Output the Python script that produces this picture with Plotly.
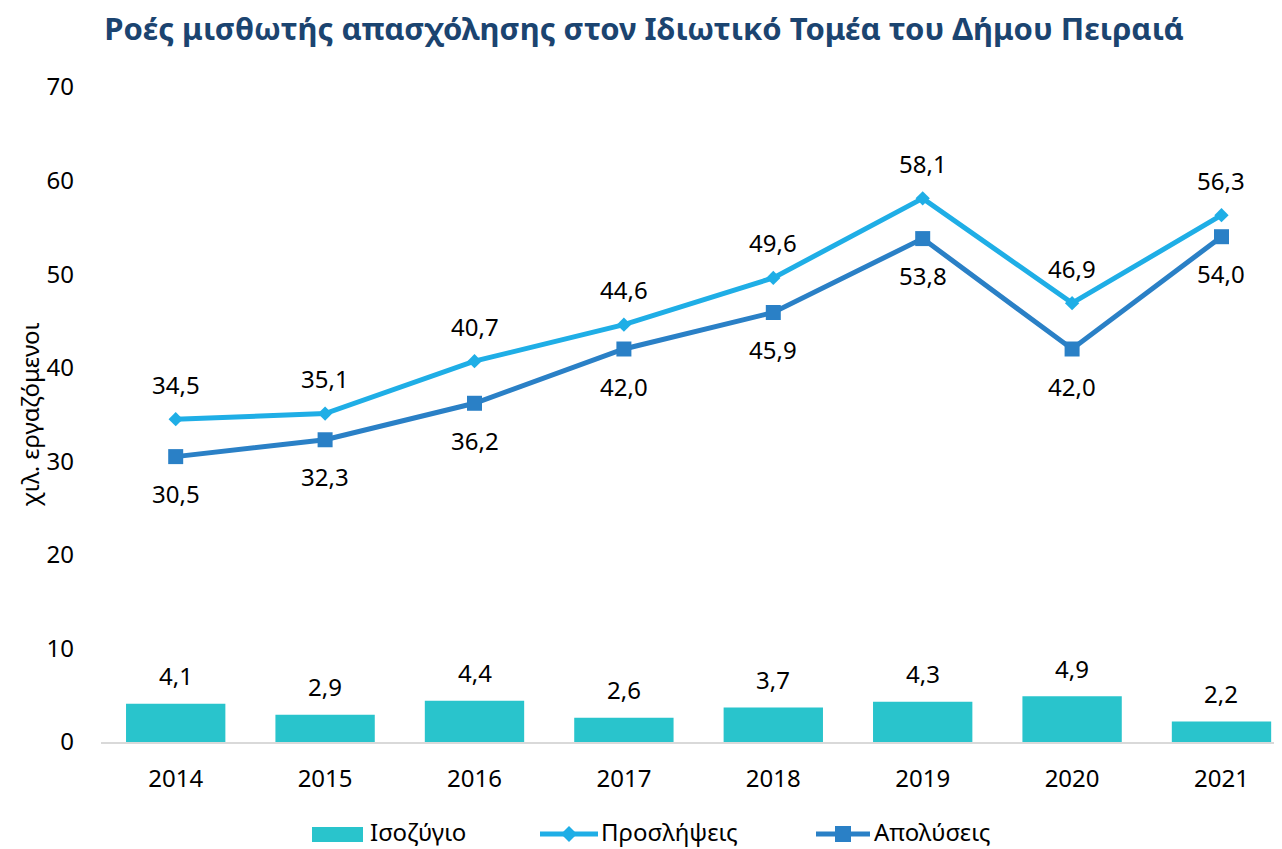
import plotly.graph_objects as go

years = ["2014", "2015", "2016", "2017", "2018", "2019", "2020", "2021"]
hires = [34.5, 35.1, 40.7, 44.6, 49.6, 58.1, 46.9, 56.3]
separations = [30.5, 32.3, 36.2, 42.0, 45.9, 53.8, 42.0, 54.0]
balance = [4.1, 2.9, 4.4, 2.6, 3.7, 4.3, 4.9, 2.2]
series_names = ["Ισοζύγιο", "Προσλήψεις", "Απολύσεις"]

TITLE = "Ροές μισθωτής απασχόλησης στον Ιδιωτικό Τομέα του Δήμου Πειραιά"
Y_TITLE = "χιλ. εργαζόμενοι"

C_BAR = "#29C4CC"
C_HIRE = "#1FAEE6"
C_SEP = "#2A80C6"
FONT = "Noto Sans"


def fmt(v):
    return f"{v:.1f}".replace(".", ",")


fig = go.Figure()
fig.add_trace(go.Bar(x=years, y=balance, name=series_names[0], marker_color=C_BAR,
                     marker_line_width=0, width=0.665, showlegend=False))
fig.add_trace(go.Scatter(x=years, y=hires, name=series_names[1], mode="lines+markers",
                         line=dict(color=C_HIRE, width=5),
                         marker=dict(symbol="diamond", size=11, color=C_HIRE),
                         showlegend=False, cliponaxis=False))
fig.add_trace(go.Scatter(x=years, y=separations, name=series_names[2], mode="lines+markers",
                         line=dict(color=C_SEP, width=5),
                         marker=dict(symbol="square", size=15, color=C_SEP),
                         showlegend=False, cliponaxis=False))

annotations = []
for ys, shift in ((balance, 28), (hires, 35), (separations, -37)):
    for i, yv in enumerate(ys):
        annotations.append(dict(x=i, y=yv, xref="x", yref="y", text=fmt(yv), showarrow=False,
                                yshift=shift, font=dict(family=FONT, size=24, color="#000000")))

# custom legend (page pixel geometry converted to paper coordinates)
PX0, PW, PY0, PH = 101.0, 1181.0, 742.0, 655.0


def px(x):
    return (x - PX0) / PW


def py(y):
    return (PY0 - y) / PH


shapes = []
LY = 834
LY_TEXT = 831
shapes.append(dict(type="rect", xref="paper", yref="paper", x0=px(312), x1=px(363),
                   y0=py(LY + 8), y1=py(LY - 7), fillcolor=C_BAR, line=dict(width=0)))
for x0, x1, col, sym in ((540, 598, C_HIRE, "diamond"), (816, 870, C_SEP, "square")):
    shapes.append(dict(type="line", xref="paper", yref="paper", x0=px(x0), x1=px(x1),
                       y0=py(LY), y1=py(LY), line=dict(color=col, width=5)))
    if sym == "diamond":
        path = "M -8,0 L 0,8 L 8,0 L 0,-8 Z"
    else:
        path = "M -8,-8 L 8,-8 L 8,8 L -8,8 Z"
    shapes.append(dict(type="path", xref="paper", yref="paper", xsizemode="pixel",
                       ysizemode="pixel", xanchor=px((x0 + x1) / 2), yanchor=py(LY),
                       path=path, fillcolor=col, line=dict(width=0)))
for name, xl in zip(series_names, (369, 600, 873)):
    annotations.append(dict(x=px(xl), y=py(LY_TEXT), xref="paper", yref="paper", text=name,
                            showarrow=False, xanchor="left", yanchor="middle", borderpad=0,
                            font=dict(family=FONT, size=24, color="#000000")))

fig.update_layout(
    width=1274, height=841,
    paper_bgcolor="white", plot_bgcolor="white",
    font=dict(family=FONT, size=24, color="#000000"),
    title=dict(text=f"<b>{TITLE}</b>", x=(644 - 8) / 1274, xanchor="center", xref="container",
               y=0.975, yanchor="middle",
               font=dict(family=FONT, size=31, color="#1B4470")),
    margin=dict(l=93, r=0, t=79, b=107),
    showlegend=False,
    annotations=annotations,
    shapes=shapes,
    xaxis=dict(type="category", range=[-0.5, 7.405], showline=True, linecolor="#D9D9D9",
               linewidth=2, ticks="", showgrid=False, tickfont=dict(size=24),
               ticklabelstandoff=14),
    yaxis=dict(range=[0, 70], dtick=10, showgrid=False, zeroline=False, showline=False,
               tickfont=dict(size=24), ticklabelstandoff=26,
               title=dict(text=Y_TITLE, font=dict(size=24), standoff=0)),
)
fig.write_html("out.html")
